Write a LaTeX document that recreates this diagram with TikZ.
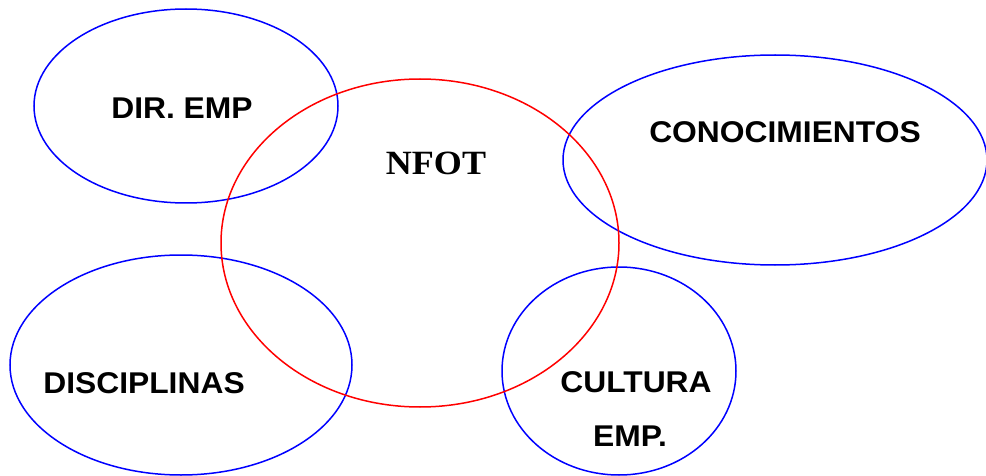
\documentclass[tikz,border=0pt]{standalone}
\usepackage{fontspec}
\setmainfont{Liberation Sans}
\newfontfamily\serifbold{Liberation Serif}
\begin{document}
\begin{tikzpicture}[x=1pt,y=-1pt,
  area/.style={draw=blue, line width=1.5pt},
  core/.style={draw=red, line width=1.5pt},
  label/.style={font=\fontsize{30}{30}\selectfont\bfseries, inner sep=0pt, xscale=1.06},
  corelabel/.style={font=\fontsize{34}{34}\serifbold\bfseries, inner sep=0pt, xscale=1.06}]
  \useasboundingbox (0,0) rectangle (986,476);
  % surrounding areas
  \draw[area] (186,106) ellipse [x radius=152, y radius=97];
  \draw[area] (775,160) ellipse [x radius=212, y radius=105];
  \draw[area] (181,365) ellipse [x radius=171, y radius=110];
  \draw[area] (619,371) ellipse [x radius=117, y radius=104];
  % central area
  \draw[core] (420,243) ellipse [x radius=199, y radius=164];
  % labels
  \node[label] (dir) at (182,108) {DIR. EMP};
  \node[corelabel] (nfot) at (436,163) {NFOT};
  \node[label] (con) at (785,132) {CONOCIMIENTOS};
  \node[label] (dis) at (144,383) {DISCIPLINAS};
  \node[label] (cul) at (636,382) {CULTURA};
  \node[label] (emp) at (630,436) {EMP.};
\end{tikzpicture}
\end{document}
